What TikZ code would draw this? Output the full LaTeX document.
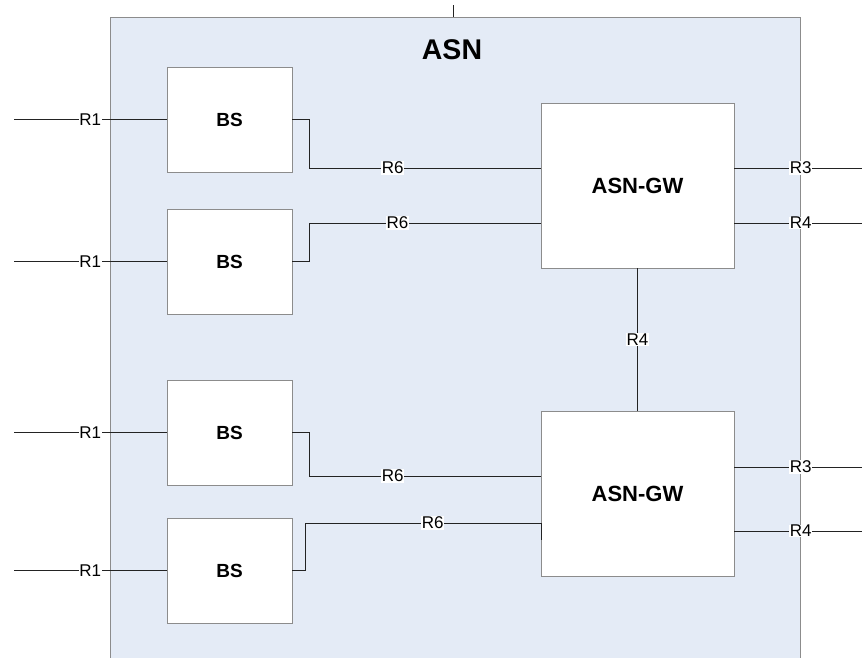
\documentclass[tikz,border=0pt]{standalone}
\usepackage{fontspec}
\setmainfont{Liberation Sans}
\usetikzlibrary{positioning}
\definecolor{asnfill}{RGB}{228,235,246}
\definecolor{boxgray}{RGB}{140,140,140}
\definecolor{linegray}{RGB}{35,35,35}

\begin{document}
\begin{tikzpicture}[
  x=1pt,y=-1pt,
  asnbox/.style={rectangle,draw=boxgray,fill=asnfill,line width=0.8pt,
                 minimum width=690pt,minimum height=660pt,inner sep=0pt},
  bsbox/.style={rectangle,draw=boxgray,fill=white,line width=0.8pt,
                minimum width=125pt,minimum height=105pt,
                font=\fontsize{19}{22}\selectfont\bfseries},
  gwbox/.style={rectangle,draw=boxgray,fill=white,line width=0.8pt,
                minimum width=193pt,minimum height=165pt,
                font=\fontsize{22}{25}\selectfont\bfseries},
  lbl/.style={fill=white,inner sep=0.6pt,font=\fontsize{17}{19}\selectfont},
  link/.style={draw=linegray,line width=0.8pt},
]
\useasboundingbox (0,0) rectangle (862,657);
\clip (0,0) rectangle (862,657);

%% ASN container (runs past the bottom edge)
\node[asnbox] (asn) at (455,347) {};
\node[font=\fontsize{28.5}{32}\selectfont\bfseries] (asnlbl) at (452,50) {ASN};
\coordinate (asntop) at (453,5);
\draw[link] (asntop) -- (asntop |- asn.north);

% Base stations
\node[bsbox] (bs1) at (229.5,119.5) {BS};
\node[bsbox] (bs2) at (229.5,261.5) {BS};
\node[bsbox] (bs3) at (229.5,432.5) {BS};
\node[bsbox] (bs4) at (229.5,570.5) {BS};

% Gateways
\node[gwbox] (gw1) at (637.5,185.5) {ASN-GW};
\node[gwbox] (gw2) at (637.5,493.5) {ASN-GW};

% Outside ends
\coordinate (r1a) at (14,119.5);
\coordinate (r1b) at (14,261.5);
\coordinate (r1c) at (14,432.5);
\coordinate (r1d) at (14,570.5);
\coordinate (out1) at (862,168);
\coordinate (out2) at (862,223);
\coordinate (out3) at (862,467);
\coordinate (out4) at (862,531);

% Gateway ports on the left side
\coordinate (gw1p1) at (541,168);
\coordinate (gw1p2) at (541,223);
\coordinate (gw2p1) at (541,476);
\coordinate (gw2p2) at (541,523);
\coordinate (gw2p2e) at (541,540);

% R1 links
\draw[link] (r1a) -- node[lbl]{R1} (bs1.west);
\draw[link] (r1b) -- node[lbl]{R1} (bs2.west);
\draw[link] (r1c) -- node[lbl]{R1} (bs3.west);
\draw[link] (r1d) -- node[lbl]{R1} (bs4.west);

% R6 links: BS -> ASN-GW
\draw[link] (bs1.east) -- ++(17,0) |- node[lbl,pos=0.68]{R6} (gw1p1);
\draw[link] (bs2.east) -- ++(17,0) |- node[lbl,pos=0.69]{R6} (gw1p2);
\draw[link] (bs3.east) -- ++(17,0) |- node[lbl,pos=0.68]{R6} (gw2p1);
\draw[link] (bs4.east) -- ++(13,0) |- node[lbl,pos=0.77]{R6} (gw2p2) -- (gw2p2e);

% R3 / R4 links out of the ASN
\draw[link] (gw1.east |- out1) -- node[lbl,pos=0.52]{R3} (out1);
\draw[link] (gw1.east |- out2) -- node[lbl,pos=0.52]{R4} (out2);
\draw[link] (gw2.east |- out3) -- node[lbl,pos=0.52]{R3} (out3);
\draw[link] (gw2.east |- out4) -- node[lbl,pos=0.52]{R4} (out4);

% R4 between the gateways
\draw[link] (gw1.south) -- node[lbl]{R4} (gw2.north);

\end{tikzpicture}
\end{document}
